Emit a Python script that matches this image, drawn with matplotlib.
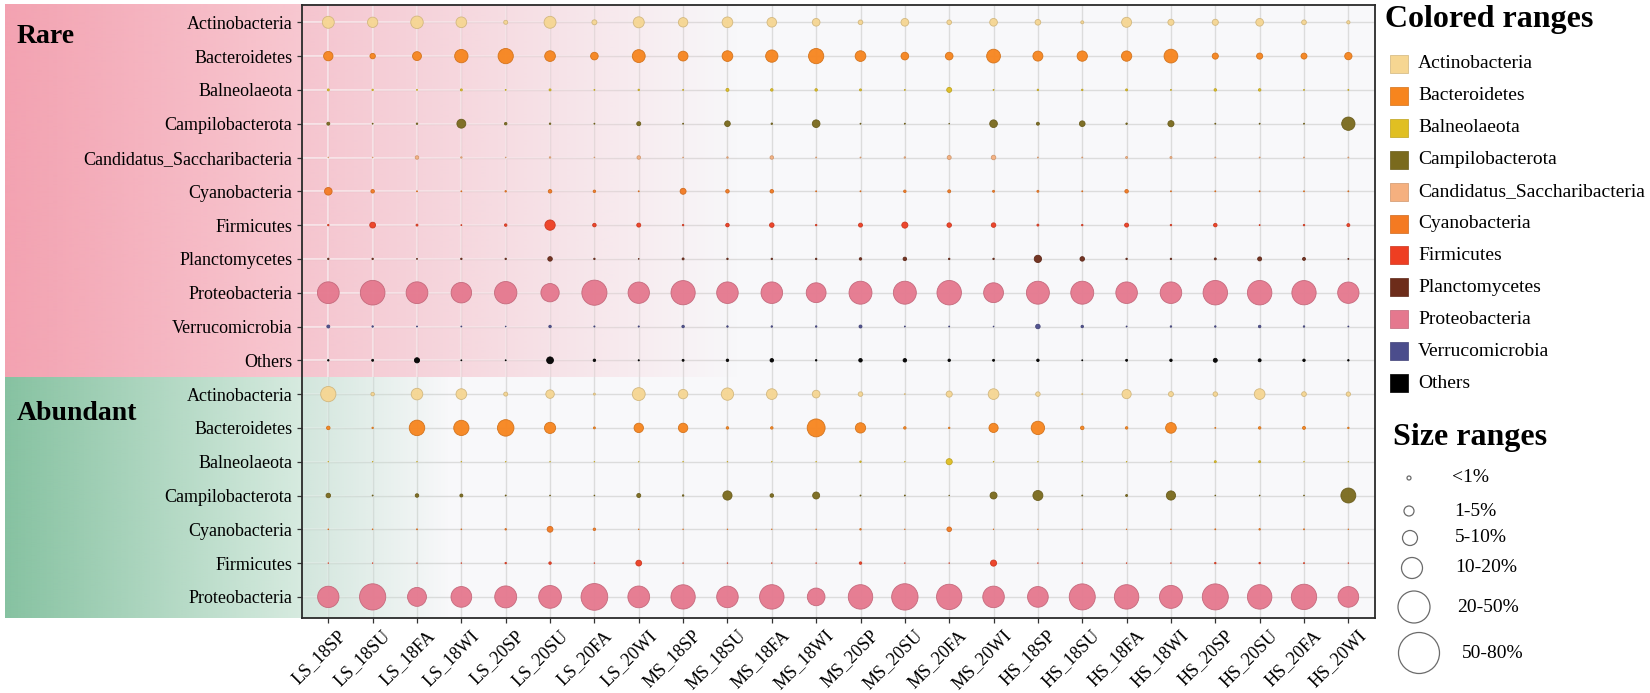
import numpy as np
import matplotlib
matplotlib.use("Agg")
from matplotlib import pyplot as plt
import matplotlib.transforms as mtransforms
from matplotlib.collections import LineCollection
from matplotlib.colors import to_rgb

plt.rcParams['font.family'] = ['Liberation Serif', 'DejaVu Serif']

# ---- data (relative abundance, %) ----
samples = ["LS_18SP", "LS_18SU", "LS_18FA", "LS_18WI", "LS_20SP", "LS_20SU", "LS_20FA", "LS_20WI",
           "MS_18SP", "MS_18SU", "MS_18FA", "MS_18WI", "MS_20SP", "MS_20SU", "MS_20FA", "MS_20WI",
           "HS_18SP", "HS_18SU", "HS_18FA", "HS_18WI", "HS_20SP", "HS_20SU", "HS_20FA", "HS_20WI"]

rare_taxa = ["Actinobacteria", "Bacteroidetes", "Balneolaeota", "Campilobacterota",
             "Candidatus_Saccharibacteria", "Cyanobacteria", "Firmicutes", "Planctomycetes",
             "Proteobacteria", "Verrucomicrobia", "Others"]
abundant_taxa = ["Actinobacteria", "Bacteroidetes", "Balneolaeota", "Campilobacterota",
                 "Cyanobacteria", "Firmicutes", "Proteobacteria"]

rare_actino = [16, 11.9, 17.5, 12.8, 1.8, 16, 2.8, 13.6, 9.9, 12.8, 10.3, 6.6,
               2.4, 6.6, 2.4, 6.6, 3.6, 1.0, 11.2, 4.2, 4.2, 6.6, 2.5, 1.2]
rare_bacte = [9.9, 3.3, 8.9, 20, 26, 12.8, 6.5, 18.6, 10.8, 12.8, 17, 26,
              12.8, 6.6, 6.6, 21.3, 11.2, 11.9, 11.9, 21.3, 4.2, 4.2, 4.0, 6.0]
rare_balneo = [0.45, 0.25, 0.11, 0.45, 0.11, 0.45, 0.11, 0.25, 0.11, 1.0, 0.7, 0.7,
               0.45, 0.11, 2.8, 0.11, 0.25, 0.25, 0.45, 0.11, 0.7, 0.7, 0.11, 0.11]
rare_campilo = [1.0, 0.11, 0.25, 8.9, 0.7, 0.25, 0.11, 1.8, 0.11, 3.6, 0.25, 6.6,
                0.11, 0.11, 0.05, 6.6, 1.0, 3.6, 0.25, 4.2, 0.11, 0.11, 0.11, 19.8]
rare_candid = [0.07, 0.07, 1.4, 0.25, 0.07, 0.25, 0.07, 1.4, 0.07, 0.25, 1.4, 0.11,
               0.11, 0.25, 1.8, 2.3, 0.11, 0.11, 0.45, 0.45, 0.11, 0.11, 0.11, 0.11]
rare_cyano = [6.5, 1.4, 0.11, 0.11, 0.25, 1.4, 0.7, 0.11, 4.0, 1.4, 1.4, 0.11,
              0.11, 0.7, 1.0, 0.45, 0.45, 0.11, 1.4, 0.11, 0.11, 0.11, 0.11, 0.11]
rare_firmi = [0.25, 3.8, 0.45, 0.11, 0.7, 11.9, 1.4, 1.8, 0.25, 1.4, 2.3, 0.25,
              1.8, 4.2, 2.3, 2.3, 0.45, 0.25, 1.8, 0.25, 1.4, 0.11, 0.25, 1.0]
rare_plancto = [0.25, 0.25, 0.11, 0.25, 0.25, 2.3, 0.25, 0.07, 0.45, 0.25, 0.25, 0.25,
                0.7, 1.4, 0.25, 0.25, 6.0, 2.3, 0.25, 0.25, 0.45, 1.8, 1.0, 0.11]
rare_proteo = [53, 68, 53, 47, 56, 37.5, 70.6, 51, 65.6, 52, 52, 44,
               59, 59, 67, 44, 59, 59, 52, 52, 67, 67, 66, 51]
rare_verru = [1.0, 0.25, 0.11, 0.11, 0.07, 0.7, 0.16, 0.16, 0.7, 0.25, 0.25, 0.25,
              1.0, 0.11, 0.11, 0.07, 2.3, 0.7, 0.11, 0.25, 0.25, 0.7, 0.25, 0.11]
rare_others = [0.25, 0.45, 3.0, 0.11, 0.11, 5.2, 0.7, 0.16, 0.45, 0.7, 1.4, 0.25,
               1.4, 1.4, 0.7, 0.45, 0.7, 0.11, 0.45, 0.7, 1.8, 1.0, 0.7, 0.25]

abund_actino = [26, 1.4, 15, 12.8, 1.8, 8.1, 0.45, 18.6, 9.9, 17, 12.8, 6.6,
                2.3, 0.11, 4.2, 12.8, 2.3, 0.11, 9.5, 2.8, 2.3, 12.8, 2.5, 2.1]
abund_bacte = [1.4, 0.25, 27, 26, 30.5, 14, 0.45, 9.9, 9.9, 0.7, 0.7, 36,
               11.9, 0.7, 0.25, 9.5, 20, 1.4, 0.7, 12.8, 0.11, 0.7, 1.0, 0.25]
abund_balneo = [0.04, 0.04, 0.04, 0.04, 0.04, 0.04, 0.04, 0.04, 0.04, 0.04, 0.04, 0.04,
                0.25, 0.04, 4.2, 0.04, 0.04, 0.04, 0.04, 0.04, 0.45, 0.45, 0.04, 0.04]
abund_campilo = [2.3, 0.11, 1.4, 1.0, 0.11, 0.07, 0.07, 1.8, 0.25, 9.5, 1.4, 5.5,
                 0.11, 0.11, 0.04, 5.5, 11.2, 0.11, 0.45, 9.5, 0.07, 0.07, 0.07, 25]
abund_cyano = [0.07, 0.07, 0.11, 0.07, 0.25, 3.8, 0.7, 0.04, 0.04, 0.04, 0.04, 0.04,
               0.25, 0.04, 2.4, 0.04, 0.04, 0.04, 0.04, 0.04, 0.11, 0.25, 0.11, 0.04]
abund_firmi = [0.04, 0.04, 0.04, 0.04, 0.25, 0.7, 0.04, 3.8, 0.04, 0.04, 0.04, 0.04,
               0.7, 0.04, 0.04, 4.2, 0.04, 0.04, 0.04, 0.04, 0.25, 0.25, 0.11, 0.04]
abund_proteo = [51, 77, 40, 48, 54, 58, 80, 53, 66, 52, 67, 35,
                67, 78, 72, 52, 48, 76, 67, 59, 76, 67, 72, 48]

rare_values = [rare_actino, rare_bacte, rare_balneo, rare_campilo, rare_candid, rare_cyano,
               rare_firmi, rare_plancto, rare_proteo, rare_verru, rare_others]
abund_values = [abund_actino, abund_bacte, abund_balneo, abund_campilo, abund_cyano,
                abund_firmi, abund_proteo]

size_labels = ["<1%", "1-5%", "5-10%", "10-20%", "20-50%", "50-80%"]

# ---- styles ----
taxon_colors = {
    "Actinobacteria": "#f6d692",
    "Bacteroidetes": "#f7851e",
    "Balneolaeota": "#e0bf22",
    "Campilobacterota": "#7a6a1d",
    "Candidatus_Saccharibacteria": "#f5b07f",
    "Cyanobacteria": "#f47a22",
    "Firmicutes": "#ee3e22",
    "Planctomycetes": "#6d2c1a",
    "Proteobacteria": "#e5788e",
    "Verrucomicrobia": "#4b4d8c",
    "Others": "#000000",
}
legend_order = rare_taxa
SIZE_K = 4.63          # pt^2 per percent
PINK = "#f3a2b1"
GREEN = "#86c2a1"

W, H = 1650, 693
AX_L, AX_R, AX_T, AX_B = 301.5, 1375, 5, 618
COL0, COL_STEP = 328.3, 44.35
ROW0, ROW_STEP = 22.3, 33.8
BAND_L = 5
PINK_END, GREEN_END = 740, 450

fig = plt.figure(figsize=(W / 100, H / 100), dpi=100)
ax = fig.add_axes([AX_L / W, 1 - AX_B / H, (AX_R - AX_L) / W, (AX_B - AX_T) / H])
ax.set_facecolor("#f8f8fa")


def px2x(px):
    return (px - COL0) / COL_STEP


def px2y(py):
    return (py - ROW0) / ROW_STEP


xl, xr = px2x(AX_L), px2x(AX_R)
yt, yb = px2y(AX_T), px2y(AX_B)
n_rare = len(rare_taxa)
split = n_rare - 0.5
n_rows = n_rare + len(abundant_taxa)


def fade(px, end):
    return np.clip((end - px) / (end - BAND_L), 0, 1)


# gray grid under everything
segs = [[(j, yb), (j, yt)] for j in range(len(samples))]
segs += [[(xl, i), (xr, i)] for i in range(n_rows)]
ax.add_collection(LineCollection(segs, colors="#dcdcdc", linewidths=1.0, zorder=0.3))

# gradient bands
xs_px = np.arange(BAND_L, AX_R + 1)
for col, end, y0, y1 in [(PINK, PINK_END, yt, split), (GREEN, GREEN_END, split, yb)]:
    img = np.zeros((1, len(xs_px), 4))
    img[..., :3] = to_rgb(col)
    img[..., 3] = fade(xs_px, end)
    ax.imshow(img, extent=[px2x(BAND_L), px2x(AX_R), y1, y0], aspect="auto",
              interpolation="bilinear", clip_on=False, zorder=0.6)

# white grid over the tinted area
wsegs, wcols = [], []
edges_px = np.linspace(AX_L, AX_R, 400)
for i in range(n_rows):
    end = PINK_END if i < n_rare else GREEN_END
    for a, b in zip(edges_px[:-1], edges_px[1:]):
        wsegs.append([(px2x(a), i), (px2x(b), i)])
        wcols.append((1, 1, 1, fade((a + b) / 2, end)))
for j in range(len(samples)):
    xp = COL0 + j * COL_STEP
    wsegs.append([(j, yt), (j, split)])
    wcols.append((1, 1, 1, fade(xp, PINK_END)))
    wsegs.append([(j, split), (j, yb)])
    wcols.append((1, 1, 1, fade(xp, GREEN_END)))
ax.add_collection(LineCollection(wsegs, colors=wcols, linewidths=1.3, zorder=0.7))

# bubbles
all_taxa = rare_taxa + abundant_taxa
all_values = rare_values + abund_values
xs = np.arange(len(samples))
for i, (taxon, vals) in enumerate(zip(all_taxa, all_values)):
    c = np.array(to_rgb(taxon_colors[taxon]))
    ax.scatter(xs, np.full(len(xs), i), s=SIZE_K * np.array(vals), color=c,
               edgecolors=c * 0.85, linewidths=0.6, alpha=0.95, zorder=3, clip_on=False)

ax.set_xlim(xl, xr)
ax.set_ylim(yb, yt)
ax.set_xticks(xs)
ax.set_xticklabels(samples, rotation=45, ha="right", va="top", rotation_mode="anchor",
                   fontsize=13)
ax.set_yticks(range(n_rows))
ax.set_yticklabels(all_taxa, fontsize=13)
ax.tick_params(length=3.5, width=0.9, color="#333333", pad=3)
ax.tick_params(axis="x", pad=3)
shift = mtransforms.ScaledTranslation(9 / 100, 0, fig.dpi_scale_trans)
for lab in ax.get_xticklabels():
    lab.set_transform(lab.get_transform() + shift)
for sp in ax.spines.values():
    sp.set_color("#2a2a2a")
    sp.set_linewidth(1.3)

fig.text(17 / W, 1 - 43 / H, "Rare", fontsize=20, fontweight="bold", va="baseline")
fig.text(17 / W, 1 - 420 / H, "Abundant", fontsize=20, fontweight="bold", va="baseline")

# ---- legends ----
lax = fig.add_axes([1380 / W, 0, 270 / W, 1])
lax.set_xlim(1380, W)
lax.set_ylim(H, 0)
lax.axis("off")

lax.text(1385, 27, "Colored ranges", fontsize=23, fontweight="bold", va="baseline")
for k, taxon in enumerate(legend_order):
    y = 64 + 31.9 * k
    c = np.array(to_rgb(taxon_colors[taxon]))
    lax.scatter([1399], [y], marker="s", s=(18 * 0.72) ** 2, color=c,
                edgecolors=c * 0.85, linewidths=0.5)
    lax.text(1418, y, taxon, fontsize=14, va="center")

lax.text(1393, 445, "Size ranges", fontsize=23, fontweight="bold", va="baseline")
circle_px = [4, 10, 15, 21, 32, 41]
circle_x = [1409, 1409, 1410, 1412, 1414, 1419]
circle_y = [478, 511, 538, 568, 607, 653]
label_x = [1452, 1454, 1455, 1455, 1457, 1462]
for d, cx, cy, lx, lab in zip(circle_px, circle_x, circle_y, label_x, size_labels):
    lax.scatter([cx], [cy], s=(d * 0.72) ** 2, facecolors="none", edgecolors="#6b6b6b",
                linewidths=0.9)
    lax.text(lx, cy, lab, fontsize=14, va="center")

fig.savefig("out.png", dpi=100)
